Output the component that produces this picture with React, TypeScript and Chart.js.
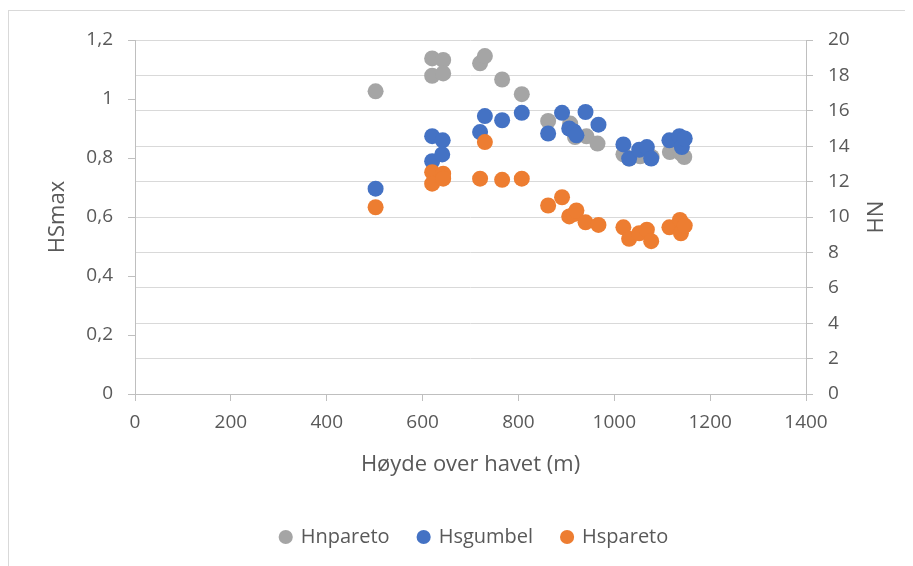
import React, { useEffect, useRef } from "react";
import { Chart, registerables } from "chart.js";

Chart.register(...registerables);

// Hnpareto (right axis, HN)
const hnX = [502, 620, 620, 643, 643, 720, 730, 766, 807, 862, 908, 918, 942, 965, 1019, 1031, 1054, 1068, 1078, 1116, 1139, 1146];
const hnY = [17.1, 18.96, 17.98, 18.87, 18.11, 18.68, 19.09, 17.77, 16.94, 15.43, 15.28, 14.52, 14.56, 14.15, 13.54, 13.3, 13.43, 13.5, 13.39, 13.67, 13.6, 13.39];

// Hsgumbel (left axis, HSmax)
const gX = [502, 620, 620, 642, 641, 720, 730, 766, 807, 862, 891, 906, 916, 921, 940, 967, 1019, 1031, 1052, 1068, 1077, 1115, 1136, 1141, 1147];
const gY = [0.696, 0.874, 0.789, 0.86, 0.812, 0.888, 0.942, 0.928, 0.953, 0.883, 0.953, 0.9, 0.89, 0.877, 0.956, 0.913, 0.846, 0.798, 0.828, 0.837, 0.798, 0.86, 0.874, 0.837, 0.866];

// Hspareto (left axis, HSmax)
const sX = [502, 620, 620, 643, 643, 720, 730, 766, 807, 862, 891, 906, 916, 921, 940, 967, 1019, 1031, 1052, 1068, 1077, 1115, 1137, 1139, 1147];
const sY = [0.633, 0.752, 0.713, 0.747, 0.73, 0.73, 0.854, 0.726, 0.73, 0.639, 0.667, 0.602, 0.61, 0.622, 0.582, 0.573, 0.565, 0.526, 0.545, 0.557, 0.518, 0.565, 0.59, 0.545, 0.571];

const seriesNames = ["Hnpareto", "Hsgumbel", "Hspareto"];
const xTitle = "Høyde over havet (m)";
const yTitle = "HSmax";
const y1Title = "HN";

const FONT = "'Open Sans', sans-serif";
const TXT = "#595959";

const toPts = (xs: number[], ys: number[]) => xs.map((x, i) => ({ x, y: ys[i] }));

const titlesPlugin = {
  id: "titles",
  afterLayout(chart: any) {
    const lg = chart.legend;
    if (lg) {
      lg.left += 14;
      lg.right += 14;
    }
  },
  afterDraw(chart: any) {
    const ctx = chart.ctx;
    const a = chart.chartArea;
    ctx.save();
    ctx.fillStyle = TXT;
    ctx.font = `22px ${FONT}`;
    ctx.textAlign = "center";
    ctx.textBaseline = "middle";
    ctx.fillText(xTitle, (a.left + a.right) / 2, 457);
    const cy = (a.top + a.bottom) / 2;
    ctx.translate(50, cy);
    ctx.rotate(-Math.PI / 2);
    ctx.fillText(yTitle, 0, 0);
    ctx.restore();
    ctx.save();
    ctx.fillStyle = TXT;
    ctx.font = `22px ${FONT}`;
    ctx.textAlign = "center";
    ctx.textBaseline = "middle";
    ctx.translate(869, cy);
    ctx.rotate(-Math.PI / 2);
    ctx.fillText(y1Title, 0, 0);
    ctx.restore();
  },
};

export default function App() {
  const ref = useRef<HTMLCanvasElement>(null);
  useEffect(() => {
    if (!ref.current) return;
    const chart = new Chart(ref.current, {
      type: "scatter",
      data: {
        datasets: [
          {
            label: seriesNames[0],
            data: toPts(hnX, hnY),
            yAxisID: "y1",
            backgroundColor: "#A5A5A5",
            borderColor: "#A5A5A5",
            pointRadius: 8,
            pointHoverRadius: 8,
            borderWidth: 0,
            order: 3,
          },
          {
            label: seriesNames[1],
            data: toPts(gX, gY),
            yAxisID: "y",
            backgroundColor: "#4472C4",
            borderColor: "#4472C4",
            pointRadius: 8,
            pointHoverRadius: 8,
            borderWidth: 0,
            order: 2,
          },
          {
            label: seriesNames[2],
            data: toPts(sX, sY),
            yAxisID: "y",
            backgroundColor: "#ED7D31",
            borderColor: "#ED7D31",
            pointRadius: 8,
            pointHoverRadius: 8,
            borderWidth: 0,
            order: 1,
          },
        ],
      },
      options: {
        responsive: false,
        animation: false,
        layout: { padding: { left: 0, right: 0, top: 32, bottom: 9 } },
        plugins: {
          tooltip: { enabled: false },
          legend: {
            position: "bottom",
            labels: {
              usePointStyle: true,
              pointStyle: "circle",
              boxWidth: 10,
              boxHeight: 10,
              padding: 29,
              color: TXT,
              font: { family: FONT, size: 20 },
              sort: (a: any, b: any) => a.datasetIndex - b.datasetIndex,
            },
          },
        },
        scales: {
          x: {
            type: "linear",
            min: 0,
            max: 1400,
            ticks: {
              stepSize: 200,
              color: TXT,
              font: { family: FONT, size: 19 },
              padding: 10,
              maxRotation: 0,
              callback: (v: any) => String(v),
            },
            grid: { drawOnChartArea: false, tickLength: 7, tickColor: "#bfbfbf" },
            border: { color: "#bfbfbf" },
            afterFit: (s: any) => { s.height = 104; },
          },
          y: {
            position: "left",
            min: 0,
            max: 1.2,
            ticks: {
              stepSize: 0.2,
              color: TXT,
              font: { family: FONT, size: 19 },
              padding: 15,
              callback: (v: any) => String(Number(Number(v).toFixed(1))).replace(".", ","),
            },
            grid: { drawOnChartArea: false, tickLength: 7, tickColor: "#bfbfbf" },
            border: { color: "#bfbfbf" },
            afterFit: (s: any) => { s.width = 127; },
          },
          y1: {
            position: "right",
            min: 0,
            max: 20,
            ticks: { stepSize: 2, color: TXT, font: { family: FONT, size: 19 }, padding: 15, callback: (v: any) => String(v) },
            grid: { drawOnChartArea: true, color: "#d9d9d9", tickLength: 7, tickColor: "#bfbfbf" },
            border: { color: "#bfbfbf" },
            afterFit: (s: any) => { s.width = 107; },
          },
        },
      },
      plugins: [titlesPlugin],
    } as any);
    return () => chart.destroy();
  }, []);

  return (
    <div style={{ position: "relative", width: 905, height: 558 }}>
      <canvas ref={ref} width={905} height={558} style={{ display: "block" }} />
      <div
        style={{
          position: "absolute",
          left: 0,
          top: 2,
          width: 905,
          height: 556,
          borderTop: "1px solid #d9d9d9",
          borderLeft: "1px solid #d9d9d9",
          pointerEvents: "none",
          boxSizing: "border-box",
        }}
      />
    </div>
  );
}
